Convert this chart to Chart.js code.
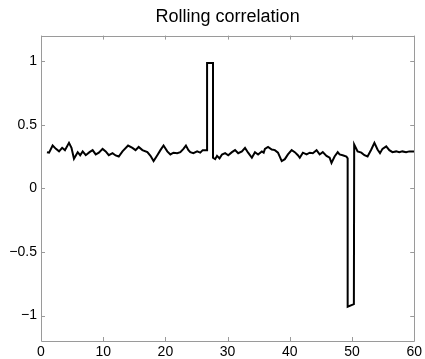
<!DOCTYPE html>
<html>
<head>
<meta charset="utf-8">
<script src="https://cdn.jsdelivr.net/npm/chart.js@4"></script>
<style>
  html, body { margin: 0; padding: 0; background: #fff; }
  #wrap { width: 425px; height: 359px; }
</style>
</head>
<body>
<div id="wrap"><canvas id="corrChart" width="425" height="359"></canvas></div>
<script>
// values
const days = [
  0.96, 1.3, 1.87, 2.4, 2.9, 3.4, 3.85, 4.5, 4.9, 5.3, 5.9, 6.3, 6.7, 7.2, 7.8, 8.3, 8.8, 9.3, 9.9, 10.4,
  10.9, 11.5, 12.0, 12.5, 13.1, 14.0, 14.7, 15.2, 15.7, 16.3, 17.1, 17.6, 18.1, 18.7, 19.2, 19.7, 20.3, 20.8,
  21.3, 21.9, 22.4, 22.9, 23.3, 23.7, 24.0, 24.5, 25.1, 25.6, 26.0, 26.4, 26.7, 26.7, 27.65, 27.65, 28.0,
  28.3, 28.7, 29.1, 29.6, 30.1, 30.7, 31.2, 31.7, 32.3, 32.8, 33.3, 33.9, 34.4, 34.9, 35.5, 35.8, 36.0, 36.5,
  37.1, 37.6, 38.1, 38.7, 39.2, 39.7, 40.3, 40.8, 41.3, 41.6, 42.1, 42.7, 43.2, 43.7, 44.3, 44.8, 45.3, 45.9,
  46.4, 46.7, 47.2, 47.7, 48.0, 48.5, 49.1, 49.3, 49.3, 50.3, 50.35, 50.9, 51.5, 52.0, 52.5, 53.1, 53.6,
  54.1, 54.5, 54.9, 55.5, 56.0, 56.5, 57.1, 57.6, 58.1, 58.7, 59.2, 59.8, 60
];
const correlation = [
  0.284, 0.28, 0.336, 0.31, 0.29, 0.318, 0.30, 0.357, 0.318, 0.232, 0.284, 0.26, 0.29, 0.26, 0.284, 0.30, 0.266, 0.28, 0.31, 0.29,
  0.26, 0.276, 0.258, 0.25, 0.29, 0.336, 0.318, 0.30, 0.325, 0.30, 0.284, 0.255, 0.214, 0.26, 0.30, 0.336, 0.29, 0.266,
  0.28, 0.276, 0.284, 0.31, 0.336, 0.30, 0.284, 0.276, 0.29, 0.28, 0.30, 0.30, 0.30, 0.985, 0.985, 0.24, 0.229,
  0.255, 0.235, 0.266, 0.276, 0.26, 0.284, 0.30, 0.276, 0.29, 0.318, 0.28, 0.24, 0.284, 0.266, 0.29, 0.28, 0.31, 0.325,
  0.305, 0.30, 0.28, 0.214, 0.229, 0.266, 0.30, 0.284, 0.26, 0.24, 0.28, 0.266, 0.28, 0.276, 0.30, 0.266, 0.284, 0.255,
  0.24, 0.20, 0.25, 0.284, 0.266, 0.26, 0.25, 0.235, -0.93, -0.91, 0.344, 0.29, 0.28, 0.26, 0.25, 0.305, 0.357,
  0.305, 0.276, 0.31, 0.33, 0.30, 0.284, 0.29, 0.284, 0.29, 0.284, 0.29, 0.29, 0.29
];
const xTicks = [0, 10, 20, 30, 40, 50, 60];
const yTicks = [-1, -0.5, 0, 0.5, 1];

const FONT = "'Liberation Sans', Arial, Helvetica, sans-serif";
const AXIS_GREY = '#9a9a9a';

// matlab style box with inward ticks on all four sides
const boxPlugin = {
    id: 'boxTicks',
    afterDraw(chart) {
        const ctx = chart.ctx;
        const a = chart.chartArea;
        const xs = chart.scales.x, ys = chart.scales.y;
        const len = 4;
        ctx.save();
        ctx.strokeStyle = AXIS_GREY;
        ctx.lineWidth = 1;
        ctx.beginPath();
        ctx.rect(Math.round(a.left) + 0.5, Math.round(a.top) + 0.5,
                 Math.round(a.right - a.left), Math.round(a.bottom - a.top));
        xTicks.forEach(v => {
            const px = Math.round(xs.getPixelForValue(v)) + 0.5;
            ctx.moveTo(px, a.bottom); ctx.lineTo(px, a.bottom - len);
            ctx.moveTo(px, a.top); ctx.lineTo(px, a.top + len);
        });
        yTicks.forEach(v => {
            const py = Math.round(ys.getPixelForValue(v)) + 0.5;
            ctx.moveTo(a.left, py); ctx.lineTo(a.left + len, py);
            ctx.moveTo(a.right, py); ctx.lineTo(a.right - len, py);
        });
        ctx.stroke();
        ctx.restore();
    }
};

function fmt(v) {
    return v < 0 ? '\u2212' + String(-v) : String(v);
}

const ctx = document.getElementById('corrChart').getContext('2d');
new Chart(ctx, {
    type: 'scatter',
    data: {
        datasets: [{
            data: days.map((d, i) => ({ x: d, y: correlation[i] })),
            showLine: true,
            borderColor: '#000',
            borderWidth: 2,
            pointRadius: 0,
            tension: 0,
            fill: false
        }]
    },
    options: {
        responsive: false,
        animation: false,
        layout: { padding: { left: 0, right: 9, top: 0, bottom: 0 } },
        plugins: {
            legend: { display: false },
            tooltip: { enabled: false },
            title: {
                display: true,
                text: 'Rolling correlation',
                color: '#000',
                fullSize: false,
                font: { family: FONT, size: 18, weight: 'normal' },
                padding: { top: 6, bottom: 8 }
            }
        },
        scales: {
            x: {
                type: 'linear',
                min: 0,
                max: 60,
                afterBuildTicks: s => { s.ticks = xTicks.map(v => ({ value: v })); },
                afterFit: s => { s.height = 18; },
                grid: { display: false, drawTicks: false },
                border: { display: false },
                ticks: { color: '#000', padding: 3, font: { family: FONT, size: 14 }, callback: v => fmt(v) }
            },
            y: {
                min: -1.2,
                max: 1.2,
                afterBuildTicks: s => { s.ticks = yTicks.map(v => ({ value: v })); },
                afterFit: s => { s.width = 41; },
                grid: { display: false, drawTicks: false },
                border: { display: false },
                ticks: { color: '#000', padding: 4, font: { family: FONT, size: 14 }, callback: v => fmt(v) }
            }
        }
    },
    plugins: [boxPlugin]
});
</script>
</body>
</html>
